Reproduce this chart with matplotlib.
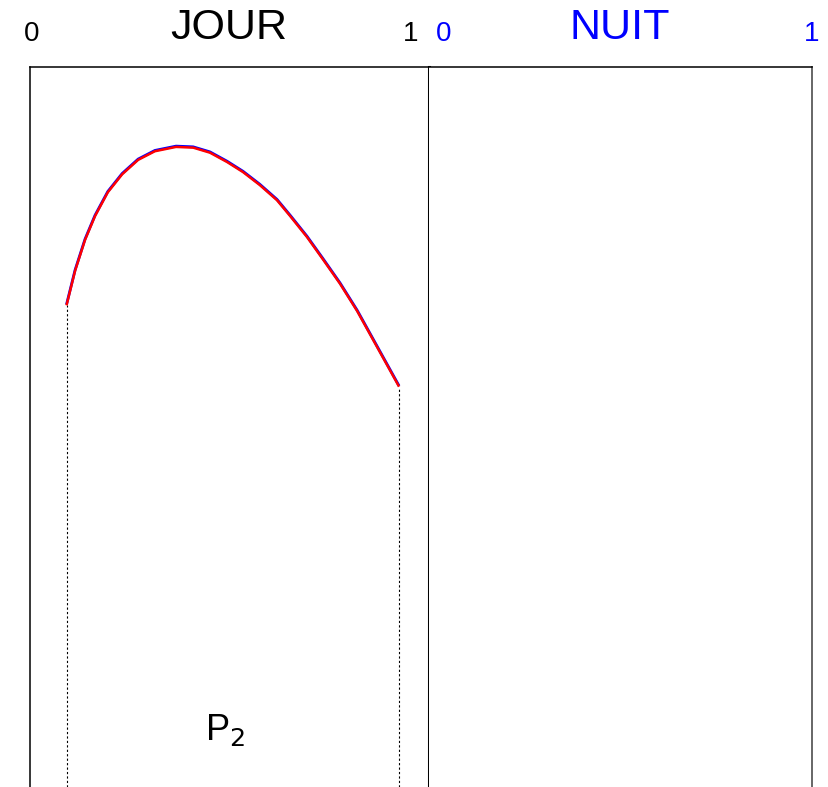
import matplotlib
matplotlib.use("Agg")
import matplotlib.pyplot as plt
import matplotlib.transforms as mtransforms

plt.rcParams['font.family'] = ['Liberation Sans', 'DejaVu Sans']

# ---- data ----
jour_x = [0.0915, 0.113, 0.138, 0.163, 0.195, 0.231, 0.271, 0.313, 0.366,
          0.409, 0.451, 0.494, 0.534, 0.576, 0.619, 0.652, 0.694, 0.734,
          0.777, 0.820, 0.860, 0.902, 0.925]
jour_y = [0.669, 0.717, 0.760, 0.793, 0.826, 0.851, 0.871, 0.883, 0.889,
          0.888, 0.881, 0.868, 0.854, 0.836, 0.815, 0.793, 0.764, 0.733,
          0.699, 0.661, 0.621, 0.579, 0.556]
panel_titles = ["JOUR", "NUIT"]
range_labels = ["0", "1"]
subscript_label = r"P$_2$"

W, H = 829, 787
fig = plt.figure(figsize=(W / 100, H / 100), dpi=100)

def fx(px):
    return px / W

def fy(py):
    return 1 - py / H

top = 67
ax1 = fig.add_axes([fx(30), 0, fx(429) - fx(30), fy(top)])
ax2 = fig.add_axes([fx(429), 0, fx(812) - fx(429), fy(top)])

for ax in (ax1, ax2):
    ax.set_xlim(0, 1)
    ax.set_ylim(0, 1)
    ax.set_xticks([])
    ax.set_yticks([])
    ax.spines['bottom'].set_visible(False)

ax1.spines['left'].set_linewidth(1.1)
ax1.spines['top'].set_linewidth(1.1)
ax1.spines['right'].set_linewidth(2.2)
ax2.spines['left'].set_visible(False)
ax2.spines['top'].set_linewidth(1.1)
ax2.spines['right'].set_linewidth(1.4)
ax2.spines['right'].set_color('#666666')

# curves: blue underneath (slightly raised), red on top
offset = mtransforms.ScaledTranslation(0, 0.8 / 100, fig.dpi_scale_trans)
ax1.plot(jour_x, jour_y, color='blue', lw=2.0, solid_capstyle='butt',
         solid_joinstyle='round', transform=ax1.transData + offset, zorder=3)
ax1.plot(jour_x, jour_y, color='red', lw=1.8, solid_capstyle='butt',
         solid_joinstyle='round', zorder=4)

# dotted drop lines at both ends of the curve
for xi, yi in ((jour_x[0], jour_y[0]), (jour_x[-1], jour_y[-1])):
    ax1.plot([xi, xi], [0, yi], color='black', lw=0.8,
             linestyle=(0, (2, 2)), zorder=2)

# titles and range labels
fig.text(fx(229), fy(28), panel_titles[0], ha='center', va='center',
         fontsize=31, color='black')
fig.text(fx(620), fy(28), panel_titles[1], ha='center', va='center',
         fontsize=31, color='blue')
fig.text(fx(32), fy(34), range_labels[0], ha='center', va='center',
         fontsize=20, color='black')
fig.text(fx(411), fy(34), range_labels[1], ha='center', va='center',
         fontsize=20, color='black')
fig.text(fx(444), fy(34), range_labels[0], ha='center', va='center',
         fontsize=20, color='blue')
fig.text(fx(812), fy(34), range_labels[1], ha='center', va='center',
         fontsize=20, color='blue')

fig.text(fx(225), fy(730), subscript_label, ha='center', va='center',
         fontsize=26, color='black')

fig.savefig("out.png", dpi=100)
